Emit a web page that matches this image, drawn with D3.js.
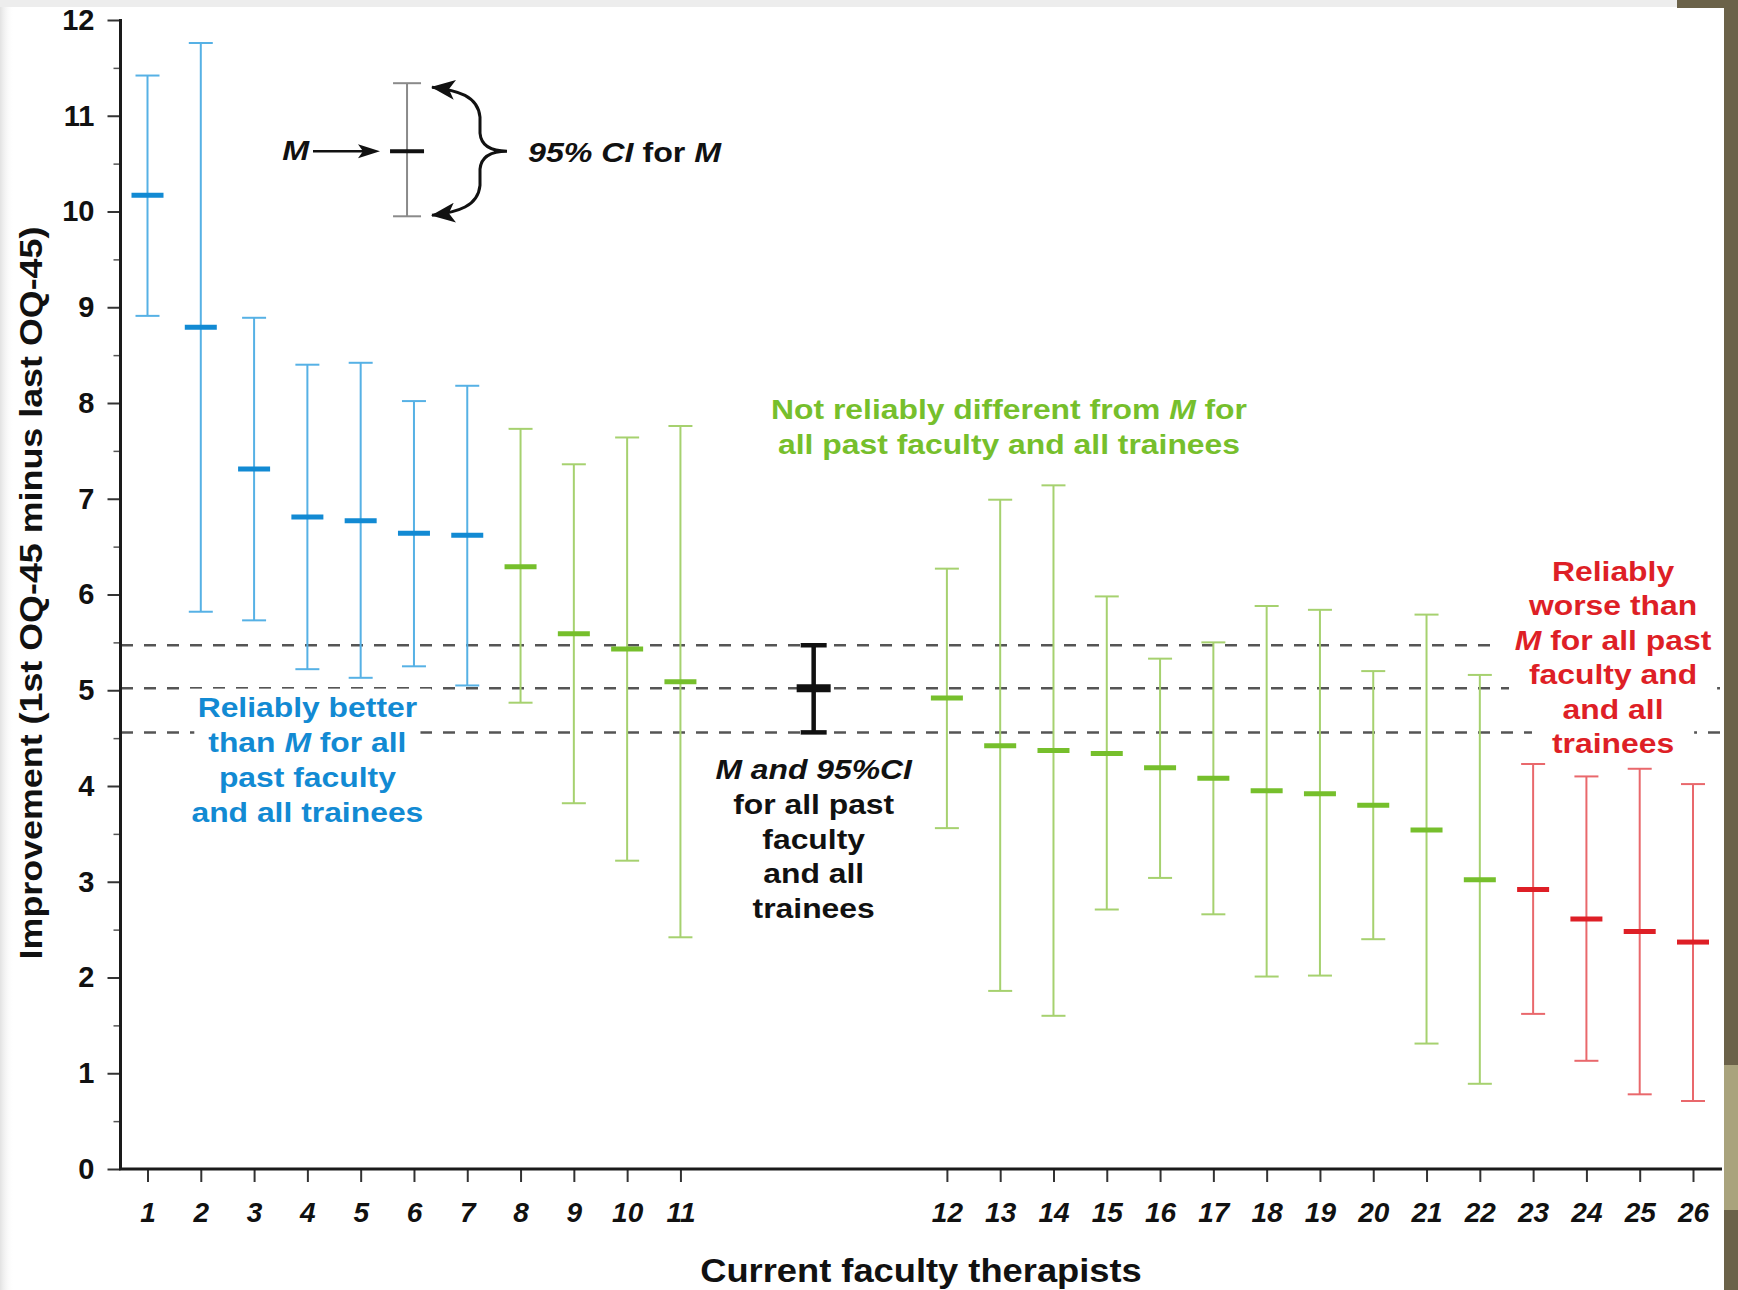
<!doctype html>
<html>
<head>
<meta charset="utf-8">
<style>
body { margin: 0; background: #fff; }
svg { display: block; font-family: "Liberation Sans", Arial, Helvetica, sans-serif; font-weight: bold; }
</style>
<script src="https://d3js.org/d3.v7.min.js"></script>
</head>
<body>
<svg width="1738" height="1290"></svg>
<script>
// therapists, sorted by mean improvement
var therapists = [1, 2, 3, 4, 5, 6, 7, 8, 9, 10, 11, 12, 13, 14, 15, 16, 17, 18, 19, 20, 21, 22, 23, 24, 25, 26];
var means = [10.17, 8.79, 7.31, 6.81, 6.77, 6.64, 6.62, 6.29, 5.59, 5.43, 5.09, 4.92, 4.42, 4.37, 4.34, 4.19, 4.08, 3.95, 3.92, 3.80, 3.54, 3.02, 2.92, 2.61, 2.48, 2.37];
var upper = [11.42, 11.76, 8.89, 8.40, 8.42, 8.02, 8.18, 7.73, 7.36, 7.64, 7.76, 6.27, 6.99, 7.14, 5.98, 5.33, 5.50, 5.88, 5.84, 5.20, 5.79, 5.16, 4.23, 4.10, 4.18, 4.02];
var lower = [8.91, 5.82, 5.73, 5.22, 5.13, 5.25, 5.05, 4.87, 3.82, 3.22, 2.42, 3.56, 1.86, 1.60, 2.71, 3.04, 2.66, 2.01, 2.02, 2.40, 1.31, 0.89, 1.62, 1.13, 0.78, 0.71];
var groups = ["better", "better", "better", "better", "better", "better", "better",
              "same", "same", "same", "same", "same", "same", "same", "same", "same", "same", "same", "same", "same", "same", "same",
              "worse", "worse", "worse", "worse"];

// all past faculty and all trainees
var overall = { m: 5.02, lo: 4.56, hi: 5.47 };
// the little key at the top
var keyBar = { m: 10.63, lo: 9.95, hi: 11.34 };

var yTicks = [0, 1, 2, 3, 4, 5, 6, 7, 8, 9, 10, 11, 12];

var light = { better: "#56b1e5", same: "#a6d16f", worse: "#e9686c" };
var dark = { better: "#128ad3", same: "#76bf2c", worse: "#de1f26" };

var svg = d3.select("svg");
var defs = svg.append("defs");

var x = d3.scaleLinear().domain([1, 30]).range([147.5, 1693]);
var y = d3.scaleLinear().domain([0, 12]).range([1169, 20]);
// leave a gap between 11 and 12 for the overall M
function slot(t) { return t <= 11 ? t : t + 4; }
var overallSlot = 13.5;
var keySlot = 5.87;

// dashed reference lines
svg.append("g").selectAll("line")
  .data([overall.hi, overall.m, overall.lo])
  .join("line")
    .attr("x1", 121).attr("x2", 1722)
    .attr("y1", function(d) { return y(d); })
    .attr("y2", function(d) { return y(d); })
    .attr("stroke", "#555")
    .attr("stroke-width", 2.5)
    .attr("stroke-dasharray", "12,11");

// y axis
var yAx = svg.append("g").attr("transform", "translate(120.5,0)");
yAx.call(d3.axisLeft(y).tickValues(yTicks).tickSize(13).tickPadding(13).tickFormat(d3.format("d")))
  .call(function(g) { g.select(".domain").remove(); });
yAx.selectAll("text").attr("font-size", 29).attr("font-family", null).attr("fill", "#111");
yAx.selectAll("line").attr("stroke", "#333").attr("stroke-width", 2);
var yMinor = svg.append("g").attr("transform", "translate(120.5,0)");
yMinor.call(d3.axisLeft(y).tickValues(d3.range(0.5, 12, 1)).tickSize(7).tickFormat(""))
  .call(function(g) { g.select(".domain").remove(); });
yMinor.selectAll("line").attr("stroke", "#555").attr("stroke-width", 1.5);

// x axis
var xAx = svg.append("g").attr("transform", "translate(0,1169)");
xAx.call(d3.axisBottom(x).tickValues(therapists.map(slot)).tickSize(13).tickPadding(20)
    .tickFormat(function(d, i) { return therapists[i]; }))
  .call(function(g) { g.select(".domain").remove(); });
xAx.selectAll("text").attr("font-size", 28).attr("font-style", "italic").attr("font-family", null).attr("fill", "#111");
xAx.selectAll("line").attr("stroke", "#333").attr("stroke-width", 2);

svg.append("line").attr("x1", 120.5).attr("x2", 120.5).attr("y1", 19).attr("y2", 1170)
  .attr("stroke", "#1a1a1a").attr("stroke-width", 3);
svg.append("line").attr("x1", 119).attr("x2", 1722).attr("y1", 1169).attr("y2", 1169)
  .attr("stroke", "#1a1a1a").attr("stroke-width", 3);

// error bars
var rows = therapists.map(function(t, i) {
  return { t: t, m: means[i], hi: upper[i], lo: lower[i], g: groups[i] };
});

var bars = svg.append("g").selectAll("g")
  .data(rows)
  .join("g")
    .attr("transform", function(d) { return "translate(" + x(slot(d.t)) + ",0)"; });

bars.append("line")
  .attr("y1", function(d) { return y(d.hi); })
  .attr("y2", function(d) { return y(d.lo); })
  .attr("stroke", function(d) { return light[d.g]; })
  .attr("stroke-width", 2);

bars.selectAll(".cap")
  .data(function(d) { return [{ v: d.hi, g: d.g }, { v: d.lo, g: d.g }]; })
  .join("line")
    .attr("class", "cap")
    .attr("x1", -12).attr("x2", 12)
    .attr("y1", function(c) { return y(c.v); })
    .attr("y2", function(c) { return y(c.v); })
    .attr("stroke", function(c) { return light[c.g]; })
    .attr("stroke-width", 2);

bars.append("line")
  .attr("x1", -16).attr("x2", 16)
  .attr("y1", function(d) { return y(d.m); })
  .attr("y2", function(d) { return y(d.m); })
  .attr("stroke", function(d) { return dark[d.g]; })
  .attr("stroke-width", 5);

// overall M bar (black)
var ov = svg.append("g").attr("transform", "translate(" + x(overallSlot) + ",0)");
ov.append("line").attr("y1", y(overall.hi)).attr("y2", y(overall.lo)).attr("stroke", "#111").attr("stroke-width", 4.5);
[overall.hi, overall.lo].forEach(function(v) {
  ov.append("line").attr("x1", -13).attr("x2", 13).attr("y1", y(v)).attr("y2", y(v))
    .attr("stroke", "#111").attr("stroke-width", 4.5);
});
ov.append("line").attr("x1", -17).attr("x2", 17).attr("y1", y(overall.m)).attr("y2", y(overall.m))
  .attr("stroke", "#111").attr("stroke-width", 8);

// key at the top
var kx = x(keySlot);
var key = svg.append("g");
key.append("line").attr("x1", kx).attr("x2", kx).attr("y1", y(keyBar.hi)).attr("y2", y(keyBar.lo))
  .attr("stroke", "#8a8a8a").attr("stroke-width", 2);
[keyBar.hi, keyBar.lo].forEach(function(v) {
  key.append("line").attr("x1", kx - 14).attr("x2", kx + 14).attr("y1", y(v)).attr("y2", y(v))
    .attr("stroke", "#8a8a8a").attr("stroke-width", 2);
});
key.append("line").attr("x1", kx - 17).attr("x2", kx + 17).attr("y1", y(keyBar.m)).attr("y2", y(keyBar.m))
  .attr("stroke", "#111").attr("stroke-width", 4);

var ky = y(keyBar.m);
key.append("line").attr("x1", 313).attr("x2", 366).attr("y1", ky).attr("y2", ky)
  .attr("stroke", "#111").attr("stroke-width", 2.5);
key.append("path").attr("d", "M380," + ky + " L358," + (ky - 7) + " L363," + ky + " L358," + (ky + 7) + " Z")
  .attr("fill", "#111");

defs.append("marker").attr("id", "ah")
  .attr("markerUnits", "userSpaceOnUse")
  .attr("viewBox", "0 0 24 20").attr("markerWidth", 24).attr("markerHeight", 20)
  .attr("refX", 23).attr("refY", 10)
  .attr("orient", "auto-start-reverse")
  .append("path").attr("d", "M0,0 L24,10 L0,20 L6,10 Z").attr("fill", "#111");

var yt = y(keyBar.hi) + 4, yb = y(keyBar.lo) - 1;
key.append("path")
  .attr("d", "M432," + yt + " C458," + (yt + 3) + " 478," + (yt + 9) + " 480," + (yt + 30) +
        " L480," + (ky - 18) + " C481," + (ky - 6) + " 490," + ky + " 507," + ky +
        " C490," + ky + " 481," + (ky + 6) + " 480," + (ky + 18) +
        " L480," + (yb - 30) + " C478," + (yb - 9) + " 458," + (yb - 3) + " 432," + yb)
  .attr("fill", "none").attr("stroke", "#111").attr("stroke-width", 3)
  .attr("marker-start", "url(#ah)").attr("marker-end", "url(#ah)");

// text helper: "*M*" marks italic pieces, sx widens the glyphs like the source
var bg = svg.append("g");
var fg = svg.append("g");
function block(lines, cx, y0, step, color, size, sx, anchor, pad) {
  lines.forEach(function(line, i) {
    var by = y0 + i * step;
    var t = fg.append("text")
      .attr("transform", "translate(" + cx + "," + by + ") scale(" + sx + ",1)")
      .attr("text-anchor", anchor || "middle")
      .attr("font-size", size)
      .attr("fill", color);
    line.split("*").forEach(function(p, j) {
      if (p.length) t.append("tspan").attr("font-style", j % 2 ? "italic" : null).text(p);
    });
    if (pad) {
      var w = t.node().getComputedTextLength() * sx;
      bg.append("rect").attr("x", cx - w / 2 - pad).attr("y", by - size * 1.05)
        .attr("width", w + 2 * pad).attr("height", size * 1.35).attr("fill", "#fff");
    }
  });
}

block(["*M*"], 309, 160, 0, "#111", 28, 1.15, "end");
block(["*95% CI* for *M*"], 528, 162, 0, "#111", 28, 1.15, "start");

block(["Not reliably different from *M* for", "all past faculty and all trainees"],
  1009, 419, 35, dark.same, 27, 1.18);
block(["Reliably better", "than *M* for all", "past faculty", "and all trainees"],
  x(4), 717, 35, dark.better, 27, 1.18, "middle", 14);
block(["*M and 95%CI*", "for all past", "faculty", "and all", "trainees"],
  x(overallSlot), 779, 34.8, "#111", 27, 1.18);
block(["Reliably", "worse than", "*M* for all past", "faculty and", "and all", "trainees"],
  x(28.5), 581, 34.4, dark.worse, 27, 1.18, "middle", 20);

// axis titles
svg.append("text")
  .attr("transform", "translate(42,593) rotate(-90) scale(1.12,1)")
  .attr("text-anchor", "middle").attr("font-size", 32).attr("fill", "#111")
  .text("Improvement (1st OQ-45 minus last OQ-45)");
svg.append("text")
  .attr("transform", "translate(921,1282) scale(1.1,1)")
  .attr("text-anchor", "middle").attr("font-size", 33).attr("fill", "#111")
  .text("Current faculty therapists");

// slide frame around the picture, drawn last so it sits on top
var lg = defs.append("linearGradient").attr("id", "lg").attr("x1", 0).attr("x2", 1);
lg.append("stop").attr("offset", 0).attr("stop-color", "#e2e2e2");
lg.append("stop").attr("offset", 1).attr("stop-color", "#ffffff").attr("stop-opacity", 0);
svg.append("rect").attr("width", 14).attr("height", 1290).attr("fill", "url(#lg)");
svg.append("rect").attr("width", 1677).attr("height", 7).attr("fill", "#ededed");
svg.append("rect").attr("x", 1677).attr("width", 61).attr("height", 8).attr("fill", "#6b6249");
svg.append("rect").attr("x", 1724).attr("width", 14).attr("height", 1290).attr("fill", "#6b6249");
svg.append("rect").attr("x", 1724).attr("y", 1065).attr("width", 14).attr("height", 145).attr("fill", "#a9a37d");
</script>
</body>
</html>
